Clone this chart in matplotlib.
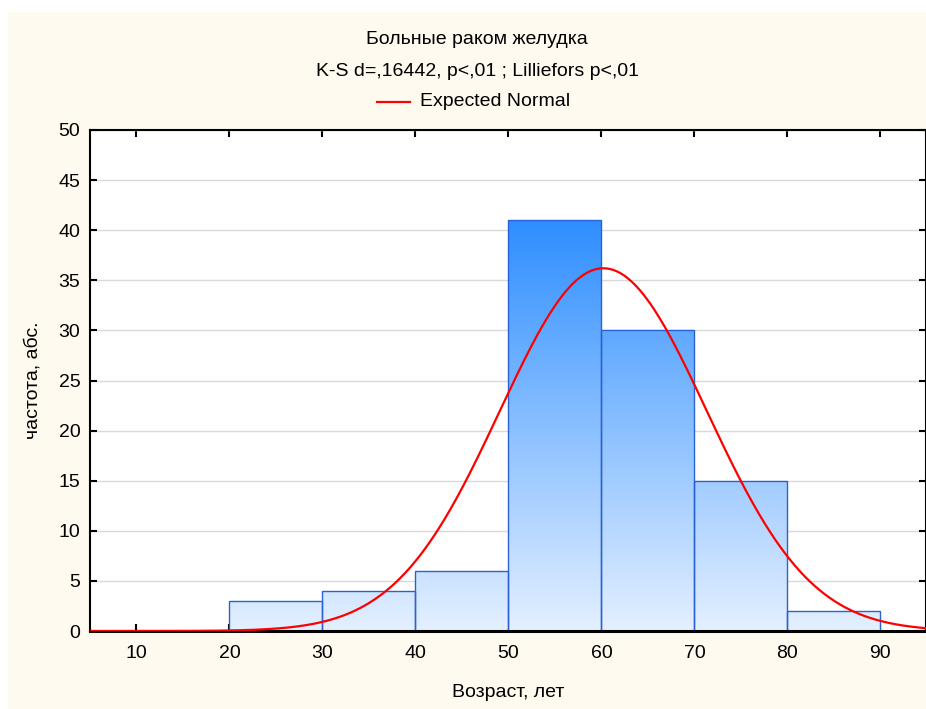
import numpy as np
import matplotlib
matplotlib.use("Agg")
import matplotlib.pyplot as plt
from matplotlib.colors import LinearSegmentedColormap
from matplotlib.patches import Rectangle

# ---- data ----
bin_edges = [10, 20, 30, 40, 50, 60, 70, 80, 90]
counts = [0, 3, 4, 6, 41, 30, 15, 2]
norm_mean = 60.2
norm_sd = 11.13
n_total = sum(counts)
x_ticks = [10, 20, 30, 40, 50, 60, 70, 80, 90]
y_ticks = [0, 5, 10, 15, 20, 25, 30, 35, 40, 45, 50]

title1 = "Больные раком желудка"
title2 = "K-S d=,16442, p<,01 ; Lilliefors p<,01"
legend_label = "Expected Normal"
xlabel = "Возраст, лет"
ylabel = "частота, абс."

fam = ["Liberation Sans", "DejaVu Sans"]
plt.rcParams['font.family'] = fam
FS = 14

W, H = 926, 709
fig = plt.figure(figsize=(W / 100, H / 100), dpi=100)
fig.patch.set_facecolor("white")
# cream background panel
fig.patches.append(Rectangle((8 / W, 0), 1 - 8 / W, 1 - 12 / H, transform=fig.transFigure,
                             facecolor="#FEFAF0", edgecolor="none", zorder=-10))

ax = fig.add_axes([90 / W, 1 - 631 / H, (926 - 90) / W, (631 - 130) / H])
ax.set_facecolor("white")

cmap = LinearSegmentedColormap.from_list("g", ["#E4F0FF", "#2E8EFF"])
grad = np.linspace(0, 1, 256).reshape(-1, 1)
top = max(counts)
for i, c in enumerate(counts):
    x0, x1 = bin_edges[i], bin_edges[i + 1]
    rect = Rectangle((x0, 0), x1 - x0, c, facecolor="none", edgecolor="#2A62D6",
                     linewidth=1.0, zorder=2.4, clip_on=False)
    ax.add_patch(rect)
    if c > 0:
        im = ax.imshow(grad, extent=[x0, x1, 0, top], origin="lower", cmap=cmap,
                       aspect="auto", zorder=2.3, interpolation="bilinear")
        clip = Rectangle((x0, 0), x1 - x0, c, transform=ax.transData)
        im.set_clip_path(clip)

ax.set_xlim(5, 94.9)
ax.set_ylim(0, 50)

xs = np.linspace(5, 95, 500)
bw = bin_edges[1] - bin_edges[0]
ys = n_total * bw / (norm_sd * np.sqrt(2 * np.pi)) * np.exp(-0.5 * ((xs - norm_mean) / norm_sd) ** 2)
ax.plot(xs, ys, color="#FF0000", linewidth=1.6, zorder=4, clip_on=True)

ax.set_yticks(y_ticks)
ax.set_xticks(x_ticks)
ax.yaxis.grid(True, color="#D9D9D9", linewidth=1.0, zorder=0)
ax.set_axisbelow(True)
ax.tick_params(axis="both", direction="in", length=5, width=1.5, labelsize=FS, colors="black",
               top=True, right=True)
ax.tick_params(axis="x", pad=10)
ax.tick_params(axis="y", pad=7)
for s in ax.spines.values():
    s.set_linewidth(1.5)
ax.spines["bottom"].set_linewidth(2.2)

ax.set_xlabel(xlabel, fontsize=FS, labelpad=16)
ax.set_ylabel(ylabel, fontsize=FS, labelpad=12)

cx = 477 / W
fig.text(cx, 1 - 40 / H, title1, ha="center", va="center", fontsize=FS)
fig.text(cx, 1 - 72 / H, title2, ha="center", va="center", fontsize=FS)
fig.add_artist(plt.Line2D([377 / W, 410 / W], [1 - 102 / H, 1 - 102 / H], color="#FF0000",
                          linewidth=1.6, transform=fig.transFigure))
fig.text(420 / W, 1 - 102 / H, legend_label, ha="left", va="center", fontsize=FS)

fig.savefig("out.png", dpi=100, facecolor=fig.get_facecolor())
